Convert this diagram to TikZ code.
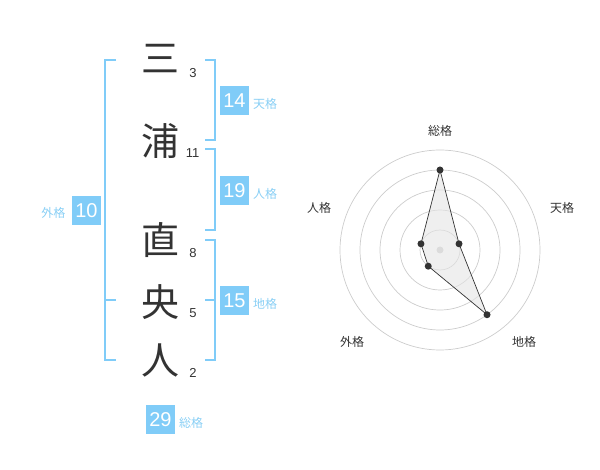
\documentclass[tikz,border=0pt]{standalone}
\usepackage{fontspec}
\setmainfont{Liberation Sans}
\newfontfamily\cjk{Noto Sans CJK JP}
\definecolor{bbox}{RGB}{128,204,248}
\definecolor{blab}{RGB}{137,207,245}
\definecolor{dk}{RGB}{51,51,51}
\definecolor{ring}{RGB}{204,204,204}
\begin{document}
\begin{tikzpicture}[x=1pt,y=-1pt,
  kanji/.style={font=\cjk\fontsize{38}{38}\selectfont,text=dk,inner sep=0pt},
  strokes/.style={font=\fontsize{13}{13}\selectfont,text=dk,inner sep=0pt},
  numbox/.style={fill=bbox,text=white,minimum width=29.5pt,minimum height=29.5pt,inner sep=0pt,font=\fontsize{20}{20}\selectfont},
  lab/.style={font=\cjk\fontsize{12}{12}\selectfont,text=blab,inner sep=0pt,anchor=west},
  brk/.style={draw=bbox,line width=2pt},
  axlab/.style={font=\cjk\fontsize{12}{12}\selectfont,text=dk,inner sep=0pt},
  dot/.style={circle,fill=dk,inner sep=0pt,minimum size=7pt}]
\useasboundingbox (0,0) rectangle (600,470);
% characters
\node[kanji] (k1) at (160,59) {三};
\node[kanji] (k2) at (160,141) {浦};
\node[kanji] (k3) at (160,240) {直};
\node[kanji] (k4) at (160,302) {央};
\node[kanji] (k5) at (160,360) {人};
\node[strokes] (s1) at (193,73) {3};
\node[strokes] (s2) at (192.5,153) {11};
\node[strokes] (s3) at (193,253) {8};
\node[strokes] (s4) at (193,313) {5};
\node[strokes] (s5) at (193,373) {2};
% brackets
\draw[brk] (116,60) -- (105,60) -- (105,360) -- (116,360);
\draw[brk] (105,300) -- (116,300);
\draw[brk] (205,60) -- (214.5,60) -- (214.5,140) -- (205,140);
\draw[brk] (205,149) -- (214.5,149) -- (214.5,230) -- (205,230);
\draw[brk] (205,240) -- (214.5,240) -- (214.5,360) -- (205,360);
\draw[brk] (205,300) -- (214.5,300);
% boxes
\node[numbox] (b14) at (234.5,100.5) {14};
\node[lab] (l14) at (253,104) {天格};
\node[numbox] (b19) at (234.5,190.5) {19};
\node[lab] (l19) at (253,194) {人格};
\node[numbox] (b15) at (234.5,300.5) {15};
\node[lab] (l15) at (253,304) {地格};
\node[numbox] (b10) at (86.5,210.5) {10};
\node[lab,anchor=east] (l10) at (65.5,213) {外格};
\node[numbox] (b29) at (160.5,419.5) {29};
\node[lab] (l29) at (179,423) {総格};
% radar
\coordinate (c) at (440,250);
\foreach \r in {20,40,60,80,100} \draw[ring,line width=0.7pt] (c) circle[radius=\r];
\fill[ring] (c) circle[radius=3.5];
\coordinate (p1) at (440,170);
\path (c) ++(-18:20) coordinate (p2);
\path (c) ++(54:80) coordinate (p3);
\path (c) ++(126:20) coordinate (p4);
\path (c) ++(198:20) coordinate (p5);
\filldraw[fill=gray!20,fill opacity=0.6,draw=dk,line width=0.7pt] (p1) -- (p2) -- (p3) -- (p4) -- (p5) -- cycle;
\foreach \p in {p1,p2,p3,p4,p5} \node[dot] at (\p) {};
\node[axlab] (a1) at (440,131) {総格};
\node[axlab] (a2) at (562,208) {天格};
\node[axlab] (a3) at (524,342) {地格};
\node[axlab] (a4) at (352,342) {外格};
\node[axlab] (a5) at (319,208) {人格};
\end{tikzpicture}
\end{document}
